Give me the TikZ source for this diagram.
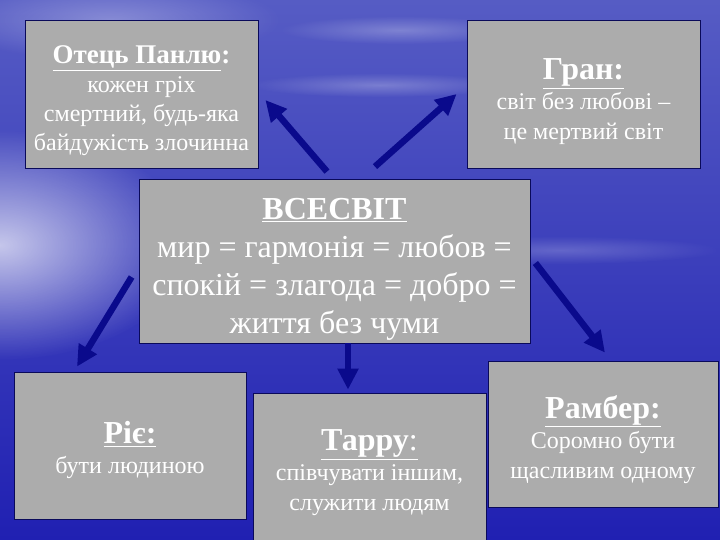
\documentclass[tikz,border=0pt]{standalone}
\usepackage{fontspec}
\setmainfont{Liberation Serif}
\usetikzlibrary{arrows.meta,fadings}
\definecolor{boxgray}{RGB}{172,172,172}
\definecolor{arrowblue}{RGB}{10,10,140}
\definecolor{rimblue}{RGB}{10,10,90}
\definecolor{skytop}{RGB}{86,92,196}
\definecolor{skymid}{RGB}{104,112,212}
\definecolor{seabot}{RGB}{32,32,178}
\tikzfading[name=glowout,inner color=transparent!0,outer color=transparent!100]

\begin{document}
\begin{tikzpicture}[x=1pt,y=-1pt,
  box/.style={draw=rimblue,line width=.8pt,fill=boxgray,text=white,align=center,
    inner sep=0pt,minimum width=233pt,minimum height=148pt,
    font=\fontsize{24}{30}\selectfont},
  arr/.style={-{Triangle[length=21pt,width=20pt]},line width=6.5pt,color=arrowblue}]
  \useasboundingbox (0,0) rectangle (720,540);
  % background: sky and sea
  \shade[top color=skytop,middle color=skymid,bottom color=seabot] (0,0) rectangle (720,540);
  \fill[white,opacity=.7,path fading=glowout] (0,245) ellipse (190 and 115);
  \fill[white,opacity=.3,path fading=glowout] (110,20) ellipse (170 and 40);
  \fill[white,opacity=.25,path fading=glowout] (400,30) ellipse (120 and 14);
  \fill[white,opacity=.25,path fading=glowout] (380,85) ellipse (130 and 12);
  \fill[white,opacity=.2,path fading=glowout] (560,250) ellipse (160 and 14);

  \node[box,minimum width=391pt,minimum height=164pt,font=\fontsize{32}{38}\selectfont]
                 (0) at (334.5,261) {\rule{0pt}{37pt}\textbf{\underline{ВСЕСВІТ}}\\мир = гармонія = любов =\\спокій = злагода = добро =\\життя без чуми};
  \node[box,font=\fontsize{24}{29}\selectfont]
                 (1) at (141.5,94)  {{\fontsize{27}{27}\selectfont\rule{0pt}{32pt}\bfseries\underline{Отець Панлю}:}\\кожен гріх\\смертний, будь-яка\\байдужість злочинна};
  \node[box]     (2) at (583.5,94)  {{\fontsize{32}{32}\selectfont\rule{0pt}{37pt}\bfseries\underline{Гран:}}\\світ без любові –\\це мертвий світ};
  \node[box,minimum width=232pt,minimum height=147pt]
                 (3) at (130,445.5) {{\fontsize{32}{32}\selectfont\rule{0pt}{32pt}\bfseries\underline{Ріє:}}\\бути людиною};
  \node[box]     (4) at (369.5,467) {{\fontsize{32}{32}\selectfont\rule{0pt}{33pt}\underline{\textbf{Тарру}:}}\\співчувати іншим,\\служити людям};
  \node[box,minimum width=230pt,minimum height=146pt]
                 (5) at (603,434)   {{\fontsize{32}{32}\selectfont\rule{0pt}{34pt}\bfseries\underline{Рамбер:}}\\Соромно бути\\щасливим одному};

  \path[arr]
    ([xshift=-7.5pt,yshift=7pt]0.north)  edge ([xshift=7pt,yshift=-6pt]1.east)
    ([xshift=40.5pt,yshift=12pt]0.north) edge ([xshift=-10pt]2.west)
    ([xshift=-7pt,yshift=-16pt]0.west)   edge ([xshift=-53pt,yshift=5pt]3.north)
    ([xshift=13.5pt]0.south)             edge ([xshift=-21.5pt,yshift=3pt]4.north)
    ([xshift=5pt,yshift=-2pt]0.east)     edge ([xshift=2pt,yshift=8pt]5.north);
\end{tikzpicture}
\end{document}
